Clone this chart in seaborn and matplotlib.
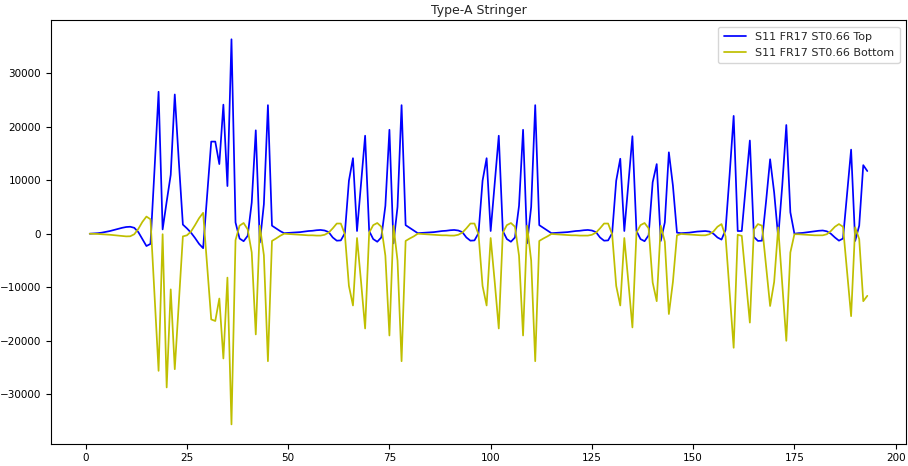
import matplotlib
matplotlib.use("Agg")
import matplotlib.pyplot as plt
import seaborn as sns
import pandas as pd

title = "Type-A Stringer"
label_top = "S11 FR17 ST0.66 Top"
label_bottom = "S11 FR17 ST0.66 Bottom"

# element index 1..193
x_index = list(range(1, 194))

top_b1 = [0, 50, 100, 200, 350, 500, 700, 900, 1100, 1250,
          1300, 1100, 300, -1000, -2300, -1900, 12000, 26500, 800, 6000,
          11000, 26000, 13500, 1700, 1000, 200, -800, -1900, -2700, 7200,
          17200, 17200, 13000, 24100, 8900, 36300, 2100, -900, -1400, -400,
          5800, 19300, -1650, 5500, 24000, 1500, 1000, 500]
top_b2 = [100, 150, 200, 250, 300, 400, 500, 550, 650, 700,
          600, 300, -700, -1300, -1250, 100, 9900, 14100, 500, 9400,
          18300, 500, -1000, -1500, -700, 5200, 19400, -1800, 5000, 24000,
          1600, 1100, 600]
top_b3 = [100, 150, 200, 250, 300, 400, 500, 550, 650, 700,
          600, 300, -700, -1300, -1250, 100, 9900, 14100, 500, 9400,
          18300, 500, -1000, -1500, -700, 5200, 19400, -1800, 5000, 24000,
          1600, 1100, 600]
top_b4 = [100, 150, 200, 250, 300, 400, 500, 550, 650, 700,
          600, 300, -700, -1300, -1250, 100, 9900, 14000, 500, 9300,
          18200, 500, -1000, -1400, -300, 9600, 13000, -1350, 2100, 15200,
          9000, 200]
top_b5 = [100, 150, 200, 300, 400, 450, 500, 400, 0, -700,
          -1100, 700, 11000, 22000, 500, 500, 9000, 17400, -600, -1350,
          -1300, 6000, 13900, 7700, -700, 9000, 20300, 4000]
top_b6 = [0, 100, 150, 250, 350, 450, 550, 600, 450, 0,
          -700, -1300, -900, 7300, 15700, -1350, 1500, 12800, 11700]

bot_b1 = [0, -20, -50, -100, -150, -200, -280, -360, -430, -500,
          -480, -100, 900, 2200, 3200, 2700, -11500, -25600, -100, -28700,
          -10400, -25300, -13000, -500, -300, 400, 1600, 2900, 3900, -6000,
          -16000, -16300, -12100, -23300, -8200, -35600, -1200, 1500, 2000, 800,
          -3500, -18800, 1500, -4000, -23800, -1350, -900, -400]
bot_b2 = [0, -50, -100, -150, -200, -250, -300, -300, -350, -350,
          -200, 200, 1000, 1900, 1900, -100, -9750, -13400, -800, -9000,
          -17700, 200, 1600, 2000, 1300, -4100, -19000, 1500, -5000, -23800,
          -1350, -900, -500]
bot_b3 = [0, -50, -100, -150, -200, -250, -300, -300, -350, -350,
          -200, 200, 1000, 1900, 1900, -100, -9750, -13400, -800, -9000,
          -17700, 200, 1600, 2000, 1300, -4100, -19000, 1500, -5000, -23800,
          -1350, -900, -500]
bot_b4 = [-50, -100, -150, -200, -250, -300, -300, -350, -350, -350,
          -200, 200, 1000, 1900, 1900, -100, -9750, -13400, -800, -9000,
          -17500, 200, 1600, 2000, 1000, -9100, -12600, 1500, -1500, -15000,
          -9000, -300]
bot_b5 = [-50, -100, -150, -200, -250, -300, -300, -100, 400, 1300,
          1800, -500, -11000, -21300, -200, -400, -8500, -16600, 800, 1800,
          1500, -6000, -13500, -9000, 1200, -9500, -20000, -3500]
bot_b6 = [-100, -100, -150, -200, -250, -300, -300, -300, -100, 500,
          1300, 1800, 1300, -7000, -15400, 1200, -1000, -12600, -11600]

top_vals = top_b1 + top_b2 + top_b3 + top_b4 + top_b5 + top_b6
bot_vals = bot_b1 + bot_b2 + bot_b3 + bot_b4 + bot_b5 + bot_b6
assert len(top_vals) == len(x_index) == len(bot_vals)

df = pd.DataFrame({"x": x_index, "top": top_vals, "bottom": bot_vals})

sns.set_style("ticks")
plt.rcParams["font.family"] = ["DejaVu Sans"]

fig = plt.figure(figsize=(9.08, 4.66), dpi=100)
ax = fig.add_axes([0.056, 0.048, 0.942, 0.909])

sns.lineplot(data=df, x="x", y="top", ax=ax, color="#0000ff", lw=1.25,
             label=label_top, estimator=None, sort=False)
sns.lineplot(data=df, x="x", y="bottom", ax=ax, color="#bfbf00", lw=1.25,
             label=label_bottom, estimator=None, sort=False)

ax.set_xlabel("")
ax.set_ylabel("")
ax.set_title(title, fontsize=9, pad=4)
ax.set_xticks([0, 25, 50, 75, 100, 125, 150, 175, 200])
ax.set_yticks([-30000, -20000, -10000, 0, 10000, 20000, 30000])
ax.tick_params(labelsize=7.5, length=3.5, width=0.8, colors="black")
for s in ax.spines.values():
    s.set_color("black")
    s.set_linewidth(0.8)
leg = ax.legend(loc="upper right", fontsize=8, frameon=True,
                borderaxespad=0.6, borderpad=0.5)
leg.get_frame().set_edgecolor("#cccccc")

fig.savefig("out.png", dpi=100)
